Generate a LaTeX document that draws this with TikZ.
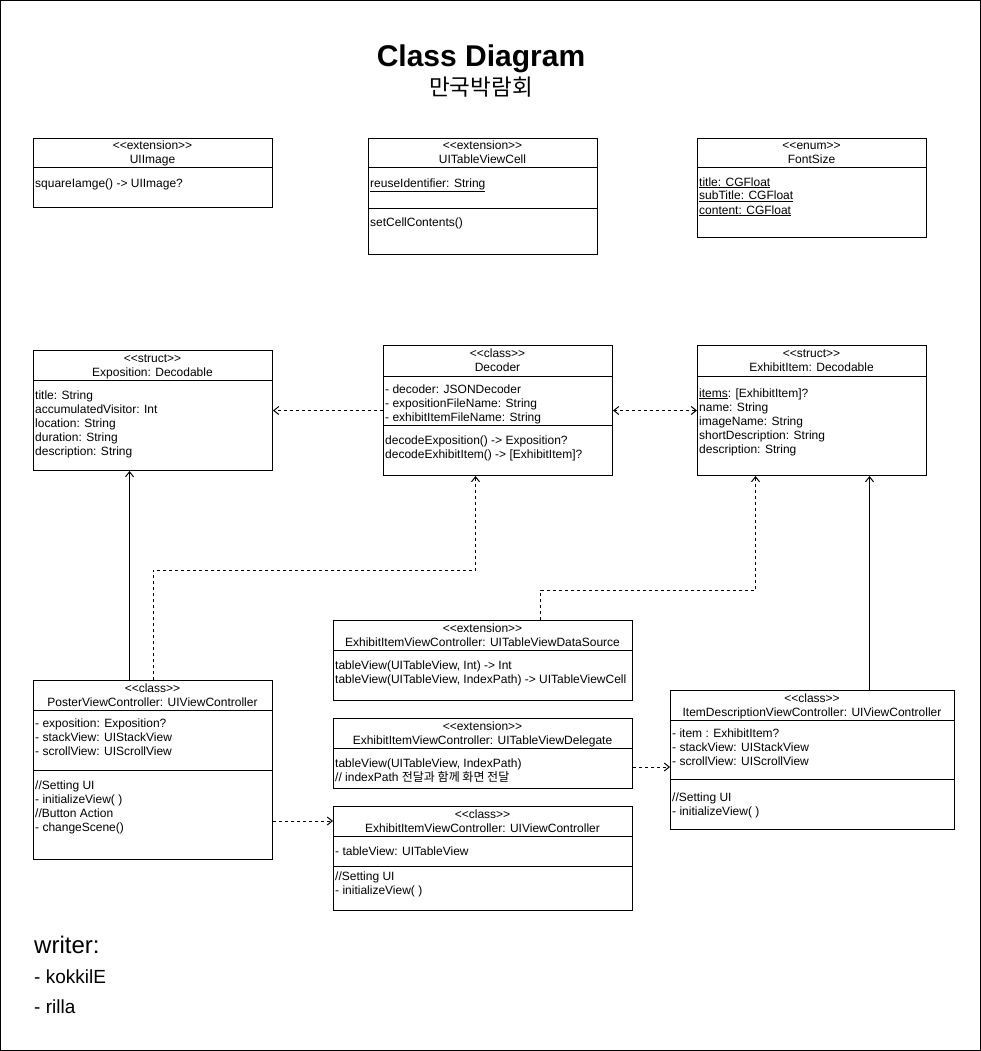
\documentclass[tikz,border=0pt]{standalone}
\usepackage{fontspec}
\setmainfont{Liberation Sans}
\newfontfamily\kr{Noto Sans CJK KR}
\usetikzlibrary{arrows.meta,calc}

\tikzset{
  classframe/.style={draw, line width=1pt, rectangle, inner sep=0pt, anchor=north west},
  txt/.style={inner sep=0pt, font=\fontsize{12}{14}\selectfont},
  dep/.style={draw, line width=1pt, dash pattern=on 3pt off 3pt, -{Straight Barb[length=5pt,width=8pt]}},
  assoc/.style={draw, line width=1pt, -{Straight Barb[length=5pt,width=8pt]}},
  sep/.style={line width=1pt}
}

% #1 name, #2 x, #3 y (top), #4 width, #5 height, #6 stereotype, #7 title
\newcommand\classbox[7]{%
  \node[classframe, minimum width=#4pt, minimum height=#5pt] (#1) at (#2,#3) {};
  \node[txt, anchor=base] (#1-st) at ({#2+#4/2},{#3+12}) {<{}<#6>{}>};
  \node[txt, anchor=base] (#1-nm) at ({#2+#4/2},{#3+26}) {#7};
}
% #1 box name, #2 y of divider
\newcommand\divline[2]{\draw[sep] (#1.west |- 0,#2) -- (#1.east |- 0,#2);}
% #1 name prefix, #2 x, #3 centre y of first line, #4 list of lines
\newcommand\bodylines[4]{%
  \foreach \t [count=\i] in {#4} {%
    \node[txt, anchor=base west] (#1-\i) at (#2,{#3+4+(\i-1)*14}) {\t};
  }%
}

\begin{document}
\begin{tikzpicture}[x=1pt,y=-1pt]
\useasboundingbox (0,0) rectangle (981,1051);
\fill[white] (0,0) rectangle (981,1051);
\draw[line width=1pt] (0.5,0.5) rectangle (980.5,1050.5);

% title
\node[inner sep=0pt, anchor=base, font=\bfseries\fontsize{30}{34}\selectfont] (title) at (481,67) {Class Diagram};
\node[inner sep=0pt, anchor=base, font=\kr\fontsize{22.5}{26}\selectfont] (subtitle) at (481,96) {만국박람회};

% UIImage
\classbox{uiimage}{33}{138}{239}{69}{extension}{UIImage}
\divline{uiimage}{168}
\bodylines{uiimage-a}{35}{183}{squareIamge() -> UIImage?}

% UITableViewCell
\classbox{cell}{368}{138}{229}{116}{extension}{UITableViewCell}
\divline{cell}{168}
\divline{cell}{208}
\bodylines{cell-a}{370}{183}{\underline{reuseIdentifier: String}}
\bodylines{cell-b}{370}{222}{setCellContents()}

% FontSize
\classbox{font}{697}{138}{229}{99}{enum}{FontSize}
\divline{font}{168}
\bodylines{font-a}{699}{182}{\underline{title: CGFloat},\underline{subTitle: CGFloat},\underline{content: CGFloat}}

% Exposition
\classbox{expo}{33}{350}{239}{120}{struct}{Exposition: Decodable}
\divline{expo}{380}
\bodylines{expo-a}{35}{395}{title: String,accumulatedVisitor: Int,location: String,duration: String,description: String}

% Decoder
\classbox{decoder}{383}{345}{229}{130}{class}{Decoder}
\divline{decoder}{376}
\divline{decoder}{425}
\bodylines{decoder-a}{385}{389}{- decoder: JSONDecoder,- expositionFileName: String,- exhibitItemFileName: String}
\bodylines{decoder-b}{385}{440}{decodeExposition() -> Exposition?,decodeExhibitItem() -> [ExhibitItem]?}

% ExhibitItem
\classbox{exhibit}{697}{345}{229}{130}{struct}{ExhibitItem: Decodable}
\divline{exhibit}{376}
\bodylines{exhibit-a}{699}{393}{\underline{items}: [ExhibitItem]?,name: String,imageName: String,shortDescription: String,description: String}

% DataSource extension
\classbox{dsrc}{333}{620}{299}{80}{extension}{ExhibitItemViewController: UITableViewDataSource}
\divline{dsrc}{650}
\bodylines{dsrc-a}{335}{665}{{tableView(UITableView, Int) -> Int},{tableView(UITableView, IndexPath) -> UITableViewCell}}

% Delegate extension
\classbox{deleg}{333}{718}{299}{70}{extension}{ExhibitItemViewController: UITableViewDelegate}
\divline{deleg}{748}
\bodylines{deleg-a}{335}{763}{{tableView(UITableView, IndexPath)},{// indexPath {\kr 전달과 함께 화면 전달}}}

% PosterViewController
\classbox{poster}{33}{680}{239}{179}{class}{PosterViewController: UIViewController}
\divline{poster}{710}
\divline{poster}{770}
\bodylines{poster-a}{35}{723}{- exposition: Exposition?,- stackView: UIStackView,- scrollView: UIScrollView}
\bodylines{poster-b}{35}{785}{//Setting UI,- initializeView( ),//Button Action,- changeScene()}

% ExhibitItemViewController
\classbox{exvc}{333}{806}{299}{104}{class}{ExhibitItemViewController: UIViewController}
\divline{exvc}{836}
\divline{exvc}{866}
\bodylines{exvc-a}{335}{851}{- tableView: UITableView}
\bodylines{exvc-b}{335}{876}{//Setting UI,- initializeView( )}

% ItemDescriptionViewController
\classbox{idesc}{670}{690}{284}{139}{class}{ItemDescriptionViewController: UIViewController}
\divline{idesc}{720}
\divline{idesc}{779}
\bodylines{idesc-a}{672}{733}{- item : ExhibitItem?,- stackView: UIStackView,- scrollView: UIScrollView}
\bodylines{idesc-b}{672}{797}{//Setting UI,- initializeView( )}

% connectors
\draw[dep] (decoder.west) -- (decoder.west -| expo.east);
\draw[dep, {Straight Barb[length=5pt,width=8pt]}-{Straight Barb[length=5pt,width=8pt]}] (decoder.east) -- (exhibit.west);
\draw[assoc] ([xshift=-23.5pt]poster.north) -- ([xshift=-23.5pt]expo.south);
\draw[dep] (poster.north) -- ++(0,-110) -| ([xshift=-22.5pt]decoder.south);
\draw[dep] ([xshift=57.5pt]dsrc.north) -- ++(0,-30) -| ([xshift=-56.5pt]exhibit.south);
\draw[assoc] ([xshift=57pt]idesc.north) -- ([xshift=57pt]idesc.north |- exhibit.south);
\draw[dep] (poster.east |- 0,821) -- (exvc.west |- 0,821);
\draw[dep] (deleg.east |- 0,767) -- (idesc.west |- 0,767);

% writers
\node[inner sep=0pt, anchor=base west, font=\fontsize{24}{28}\selectfont] (writer) at (34,953) {writer:};
\node[inner sep=0pt, anchor=base west, font=\fontsize{19}{22}\selectfont] (w1) at (34,983) {- kokkilE};
\node[inner sep=0pt, anchor=base west, font=\fontsize{19}{22}\selectfont] (w2) at (34,1013) {- rilla};
\end{tikzpicture}
\end{document}
